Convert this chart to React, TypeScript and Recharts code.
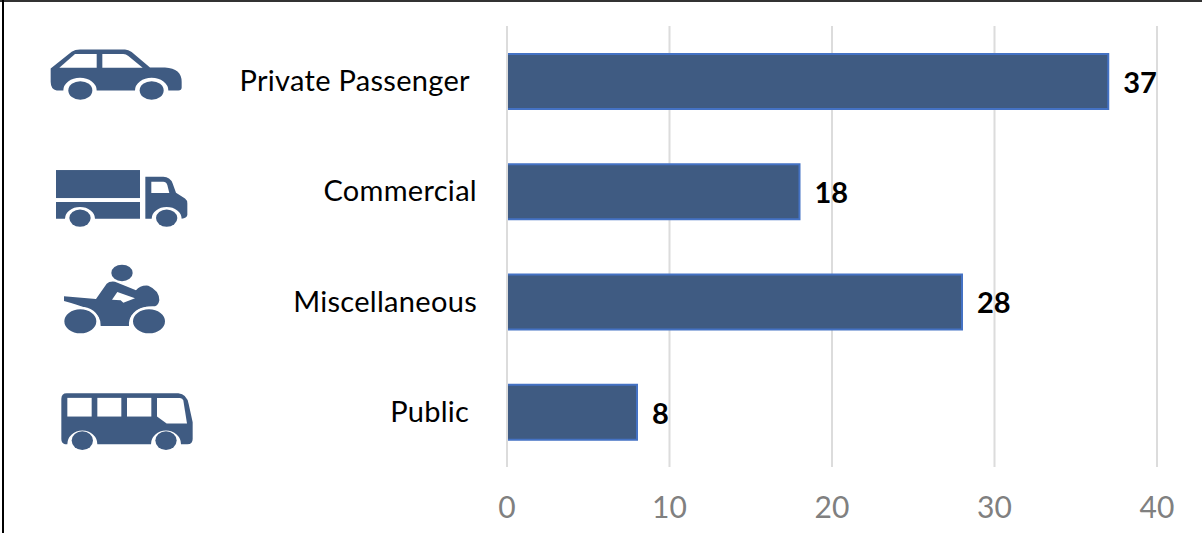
import { BarChart, Bar, XAxis, YAxis, CartesianGrid, LabelList } from 'recharts'

const categories = ['Private Passenger ', 'Commercial', 'Miscellaneous', 'Public ']
const counts = [37, 18, 28, 8]
const xTicks = [0, 10, 20, 30, 40]

const ICON_FILL = '#3f5b82'
const FONT = 'Lato, Carlito, sans-serif'

const data = categories.map((name, i) => ({ name, count: counts[i] }))

// Icons are drawn on a 3x grid and scaled down around the row centre
function CarIcon() {
    return (
        <g transform="translate(0 -243)">
            <path fill={ICON_FILL} d="M152 205 L215 155 Q225 148 240 148 L375 148 Q385 148 395 156 L450 202 L495 202 Q545 205 545 245 L545 262 Q545 271 535 271 L505 271 A50 38 0 0 0 405 271 L290 271 A50 38 0 0 0 190 271 L170 271 Q152 268 152 245 Z" />
            <path fill="#fff" d="M178 203 L225 162 L290 162 L290 203 Z" />
            <path fill="#fff" d="M307 162 L370 162 Q378 162 385 168 L428 203 L307 203 Z" />
            <ellipse fill={ICON_FILL} cx={241} cy={271} rx={36} ry={28} />
            <ellipse fill={ICON_FILL} cx={455} cy={271} rx={36} ry={28} />
        </g>
    )
}

function TruckIcon() {
    return (
        <g transform="translate(0 -574)">
            <rect fill={ICON_FILL} x={168} y={510} width={252} height={84} />
            <path fill={ICON_FILL} d="M168 606 L420 606 L420 656 L285 656 A45 35 0 0 0 195 656 L168 656 Z" />
            <path fill={ICON_FILL} d="M436 530 L490 530 Q510 530 518 550 L528 578 L555 595 Q562 600 562 610 L562 645 Q560 655 545 656 A45 35 0 0 0 455 656 L436 656 Z" />
            <path fill="#fff" d="M454 545 L490 545 Q498 545 502 555 L508 579 L454 579 Z" />
            <ellipse fill={ICON_FILL} cx={240} cy={654} rx={32} ry={26} />
            <ellipse fill={ICON_FILL} cx={500} cy={654} rx={32} ry={26} />
        </g>
    )
}

function MotorbikeIcon() {
    return (
        <g transform="translate(0 -184)">
            <ellipse fill={ICON_FILL} cx={366} cy={98} rx={32} ry={25} />
            <path fill={ICON_FILL} d="M192 168 L288 176 L320 130 Q328 122 345 124 L408 150 Q420 134 445 136 Q478 150 478 180 Q475 195 465 198 Q420 195 395 225 Q385 240 387 257 L302 257 Q304 225 270 208 Q240 195 192 182 Z" />
            <path fill="#fff" d="M352 155 L405 174 L370 187 L362 180 L336 178 Z" />
            <ellipse fill={ICON_FILL} stroke="#fff" strokeWidth={8} cx={241} cy={243} rx={52} ry={40} />
            <ellipse fill={ICON_FILL} stroke="#fff" strokeWidth={8} cx={447} cy={243} rx={52} ry={40} />
        </g>
    )
}

function BusIcon() {
    return (
        <g transform="translate(0 -514)">
            <path fill={ICON_FILL} d="M184 475 Q184 458 200 458 L535 458 Q560 460 566 490 L578 545 L578 595 Q578 611 562 611 L543 611 A45 41 0 0 0 453 611 L292 611 A45 41 0 0 0 202 611 L195 611 Q184 608 184 595 Z" />
            <rect fill="#fff" x={202} y={472} width={73} height={56} />
            <rect fill="#fff" x={292} y={472} width={72} height={56} />
            <rect fill="#fff" x={381} y={472} width={73} height={56} />
            <path fill="#fff" d="M471 472 L540 472 Q548 472 550 480 L561 549 L500 549 L471 528 Z" />
            <ellipse fill={ICON_FILL} cx={247} cy={600} rx={32} ry={28} />
            <ellipse fill={ICON_FILL} cx={498} cy={600} rx={32} ry={28} />
        </g>
    )
}

const ICONS = [CarIcon, TruckIcon, MotorbikeIcon, BusIcon]

function CategoryTick({ y, payload, index }: any) {
    const Icon = ICONS[index]
    return (
        <g>
            <g transform={`translate(0 ${y}) scale(${1 / 3})`}>
                <Icon />
            </g>
            <text
                x={477}
                y={y}
                dy={10}
                textAnchor="end"
                fontSize={29}
                letterSpacing={0.3}
                fontFamily={FONT}
                fill="#000"
                style={{ whiteSpace: 'pre' }}
            >
                {payload.value}
            </text>
        </g>
    )
}

// Bar outline runs along top, end and bottom only, so the zero gridline stays visible
function OpenBar({ x, y, width, height }: any) {
    return (
        <g>
            <rect x={x + 1} y={y} width={width - 1} height={height} fill="#3f5b82" />
            <path
                d={`M${x + 1} ${y} H${x + width} V${y + height} H${x + 1}`}
                fill="none"
                stroke="#4472c4"
                strokeWidth={2}
            />
        </g>
    )
}

export default function App() {
    return (
        <div
            style={{
                position: 'absolute',
                left: 0,
                top: 0,
                width: 1202,
                height: 533,
                background: '#fff',
                overflow: 'hidden',
                fontFamily: FONT,
            }}
        >
            <BarChart
                width={1202}
                height={533}
                data={data}
                layout="vertical"
                margin={{ top: 26, right: 45, bottom: 0, left: 0 }}
            >
                <CartesianGrid horizontal={false} stroke="#dcdcdc" strokeWidth={2} />
                <XAxis
                    type="number"
                    domain={[0, 40]}
                    ticks={xTicks}
                    height={66}
                    axisLine={false}
                    tickLine={false}
                    tickMargin={24}
                    tick={{ fill: '#808080', fontSize: 30, fontFamily: FONT }}
                />
                <YAxis
                    type="category"
                    dataKey="name"
                    width={507}
                    axisLine={false}
                    tickLine={false}
                    tick={CategoryTick}
                />
                <Bar
                    dataKey="count"
                    barSize={55}
                    shape={OpenBar}
                    isAnimationActive={false}
                >
                    <LabelList
                        dataKey="count"
                        position="right"
                        offset={15}
                        dy={1}
                        fill="#000"
                        fontSize={29}
                        fontWeight={700}
                        fontFamily={FONT}
                    />
                </Bar>
            </BarChart>
            {/* Frame along the top and left edges */}
            <div style={{ position: 'absolute', left: 0, top: 0, width: 1202, height: 2, background: '#333' }} />
            <div style={{ position: 'absolute', left: 2, top: 0, width: 2, height: 533, background: '#000' }} />
        </div>
    )
}
